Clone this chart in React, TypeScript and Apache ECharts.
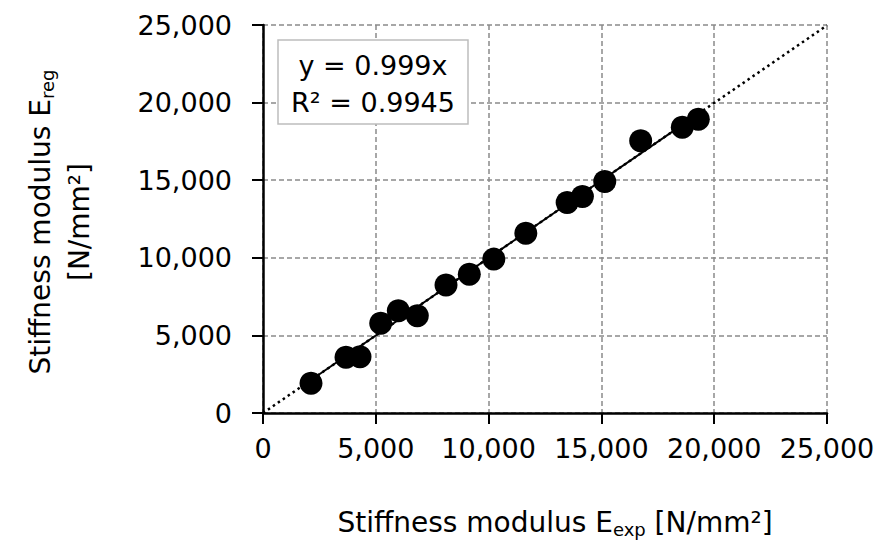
import React, { useEffect, useRef } from "react";
import * as echarts from "echarts";

// Measured stiffness moduli (N/mm²): experiment vs. regression model
const eExp = [2128, 3679, 4300, 5217, 5998, 6840, 8112, 9145, 10231, 11650, 13482, 14158, 15149, 16741, 18586, 19296];
const eReg = [1914, 3589, 3628, 5780, 6591, 6269, 8247, 8935, 9915, 11581, 13568, 13953, 14915, 17545, 18408, 18924];

// Linear trend through the origin
const trendSlope = 0.999;
const rSquared = 0.9945;

const axisTicks = [0, 5000, 10000, 15000, 20000, 25000];

const FONT = "DejaVu Sans";
const FS = 27;
const fmt = (v: number) => v.toLocaleString("en-US");

export default function App() {
  const ref = useRef<HTMLDivElement>(null);

  useEffect(() => {
    if (!ref.current) return;
    const chart = echarts.init(ref.current, null, { renderer: "svg" });
    const xMin = Math.min(...eExp);
    const xMax = Math.max(...eExp);
    const axisMax = axisTicks[axisTicks.length - 1];

    const axisCommon = {
      type: "value" as const,
      min: axisTicks[0],
      max: axisMax,
      interval: axisTicks[1] - axisTicks[0],
      axisLine: { show: true, lineStyle: { color: "#000", width: 2.5 } },
      axisTick: { show: true, length: 11, lineStyle: { color: "#000", width: 2 } },
      splitLine: {
        show: true,
        lineStyle: { color: "#8a8a8a", width: 1.5, type: [5, 3] },
      },
      axisLabel: {
        fontFamily: FONT,
        fontSize: FS,
        color: "#000",
        formatter: (v: number) => fmt(v),
      },
    };

    chart.setOption({
      animation: false,
      backgroundColor: "#fff",
      grid: { left: 263, top: 25, width: 564, height: 388 },
      xAxis: { ...axisCommon, axisLabel: { ...axisCommon.axisLabel, margin: 22 } },
      yAxis: { ...axisCommon, axisLabel: { ...axisCommon.axisLabel, margin: 31 } },
      series: [
        {
          type: "line",
          data: [
            [0, 0],
            [axisMax, axisMax * trendSlope],
          ],
          showSymbol: false,
          symbol: "none",
          lineStyle: { color: "#000", width: 2.5, type: [2.5, 3.5] },
          z: 3,
        },
        {
          type: "line",
          data: [
            [xMin, xMin * trendSlope],
            [xMax, xMax * trendSlope],
          ],
          symbol: "none",
          lineStyle: { color: "#000", width: 2 },
          z: 3,
        },
        {
          type: "scatter",
          data: eExp.map((x, i) => [x, eReg[i]]),
          symbol: "circle",
          symbolSize: 23,
          itemStyle: { color: "#000", opacity: 1 },
          z: 4,
        },
      ],
      graphic: [
        {
          type: "rect",
          shape: { x: 278, y: 40, width: 190, height: 84 },
          style: { fill: "#fff", stroke: "#bdbdbd", lineWidth: 1.5 },
          z: 10,
        },
        {
          type: "text",
          x: 373,
          y: 65,
          style: {
            text: `y = ${trendSlope}x`,
            font: `${FS}px "${FONT}"`,
            fill: "#000",
            align: "center",
            verticalAlign: "middle",
          },
          z: 11,
        },
        {
          type: "text",
          x: 373,
          y: 102,
          style: {
            text: `R² = ${rSquared}`,
            font: `${FS}px "${FONT}"`,
            fill: "#000",
            align: "center",
            verticalAlign: "middle",
          },
          z: 11,
        },
        {
          type: "text",
          x: 555,
          y: 522,
          style: {
            text: "{t|Stiffness modulus E}{s|exp}{t| [N/mm²]}",
            align: "center",
            verticalAlign: "middle",
            rich: {
              t: { fontFamily: FONT, fontSize: 28, color: "#000" },
              s: { fontFamily: FONT, fontSize: 18, color: "#000", padding: [14, 0, 0, 0] },
            },
          },
          z: 11,
        },
        {
          type: "text",
          x: 40,
          y: 222,
          rotation: Math.PI / 2,
          style: {
            text: "{t|Stiffness modulus E}{s|reg}",
            align: "center",
            verticalAlign: "middle",
            rich: {
              t: { fontFamily: FONT, fontSize: 28, color: "#000" },
              s: { fontFamily: FONT, fontSize: 18, color: "#000", padding: [14, 0, 0, 0] },
            },
          },
          z: 11,
        },
        {
          type: "text",
          x: 79,
          y: 222,
          rotation: Math.PI / 2,
          style: {
            text: "[N/mm²]",
            font: `28px "${FONT}"`,
            fill: "#000",
            align: "center",
            verticalAlign: "middle",
          },
          z: 11,
        },
      ],
    });

    return () => chart.dispose();
  }, []);

  return (
    <div
      ref={ref}
      style={{ position: "absolute", left: 0, top: 0, width: 895, height: 543 }}
    />
  );
}
